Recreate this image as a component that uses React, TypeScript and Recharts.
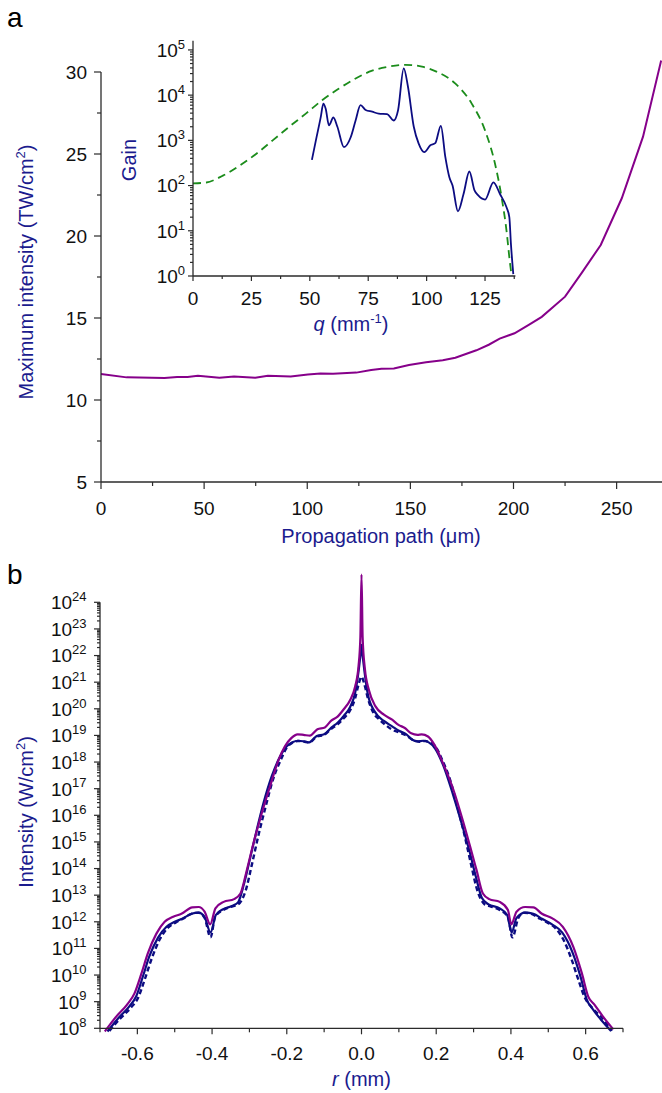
import type { ReactNode } from "react";
import { Label, Line, LineChart, XAxis, YAxis } from "recharts";

const FONT = "'Liberation Sans', Arial, Helvetica, sans-serif";
const AXIS = "#2b2b2b";
const INK = "#111111";
const TITLE = "#1b1b8e";
const NAVY = "#0c0c82";
const PURPLE = "#86008a";
const GREEN = "#1b8c1b";

// panel a: peak intensity along the propagation path
const pathUm = [
  0, 12.4, 30.8, 36.9, 42, 47, 57.4, 64.5, 74.8, 80.9, 92, 100.3, 106.4, 112.5, 123.8, 131, 136,
  142, 149.3, 157.6, 165.7, 171.8, 182, 188, 193.3, 200.5, 207.6, 213.7, 225, 233, 242.3, 252.5,
  262.8, 271.6,
];
const maxIntensity = [
  11.59, 11.38, 11.34, 11.4, 11.4, 11.48, 11.36, 11.44, 11.36, 11.48, 11.44, 11.56, 11.62, 11.6,
  11.67, 11.83, 11.9, 11.92, 12.14, 12.3, 12.42, 12.58, 13.03, 13.37, 13.74, 14.07, 14.6, 15.07,
  16.3, 17.74, 19.45, 22.3, 26.06, 30.7,
];
const pathTicks = [0, 50, 100, 150, 200, 250];
const pathMinor = [25, 75, 125, 175, 225];
const imaxTicks = [5, 10, 15, 20, 25, 30];
const imaxMinor = [7.5, 12.5, 17.5, 22.5, 27.5];

// inset: gain spectrum vs q
const qGain = [
  50.9, 52.6, 54.7, 55.8, 56.8, 58.2, 60.1, 61.8, 64.6, 67.5, 69.6, 71.7, 73.9, 76.7, 79.5, 83.1,
  85.9, 87.8, 90.2, 92, 94.5, 96.6, 99, 101.6, 103.7, 106.1, 108, 109.7, 111.1, 113.4, 115.8, 118.3,
  120.5, 121.9, 125, 128.6, 131.4, 134.2, 135.4, 136.1, 137.1,
];
const gain = [
  370, 1000, 3300, 6500, 5000, 2150, 3200, 2000, 710, 1170, 2750, 6000, 4700, 4300, 3900, 3800,
  2750, 4700, 39000, 15500, 2000, 850, 550, 780, 870, 2100, 430, 155, 100, 27, 65, 205, 78, 62, 49,
  118, 65, 33, 20, 5, 1.1,
];
const qEnvelope = [
  0, 5.7, 12.8, 19.9, 27, 34.1, 41.2, 48.3, 55.4, 62.5, 69.6, 76.7, 83.8, 90.9, 98, 105.1, 112.2,
  119.3, 125, 129.3, 132.1, 134.2, 135.6, 136.4,
];
const gainEnvelope = [
  112, 117, 166, 275, 500, 1000, 2000, 3900, 7800, 14000, 23400, 34700, 42700, 46800, 42700, 31600,
  18200, 6500, 1660, 300, 55, 10, 2.1, 1,
];
const qTicks = [0, 25, 50, 75, 100, 125];
const qMinor = [12.5, 37.5, 62.5, 87.5, 112.5, 137.5];
const gainDecades = [0, 1, 2, 3, 4, 5];

// panel b: radial intensity profiles
const rPurple = [
  -0.687, -0.656, -0.628, -0.608, -0.589, -0.572, -0.549, -0.527, -0.504, -0.482, -0.453, -0.436,
  -0.42, -0.405, -0.391, -0.369, -0.341, -0.324, -0.307, -0.29, -0.267, -0.245, -0.222, -0.205,
  -0.188, -0.171, -0.155, -0.138, -0.118, -0.098, -0.081, -0.064, -0.047, -0.03, -0.017, -0.008,
  -0.003, 0, 0.003, 0.009, 0.02, 0.037, 0.06, 0.082, 0.099, 0.116, 0.133, 0.15, 0.161, 0.178, 0.195,
  0.218, 0.246, 0.271, 0.291, 0.308, 0.325, 0.342, 0.37, 0.392, 0.401, 0.415, 0.438, 0.46, 0.483,
  0.511, 0.539, 0.567, 0.59, 0.607, 0.624, 0.646, 0.674,
];
const iPurple = [
  7.6e7, 2.8e8, 7.6e8, 2.0e9, 1.15e10, 6.5e10, 3.6e11, 1.0e12, 1.55e12, 2.0e12, 3.5e12, 3.6e12,
  2.4e12, 8e11, 3.2e12, 5.6e12, 7.1e12, 1.15e13, 8.7e13, 8e14, 1.2e16, 1.2e17, 1.2e18, 3.9e18,
  7.9e18, 1.1e19, 1.05e19, 9.8e18, 1.7e19, 2.0e19, 3.6e19, 5.1e19, 9.8e19, 2.2e20, 6.9e20, 3.9e21,
  5e22, 1.1e25, 5e22, 3.2e21, 5e20, 1.26e20, 6e19, 3.9e19, 2.5e19, 1.9e19, 1.2e19, 1.05e19, 1.1e19,
  9.1e18, 4.5e18, 9.1e17, 9.1e16, 6.5e15, 6.5e14, 8.7e13, 1.15e13, 7.1e12, 5.6e12, 2.75e12, 8e11,
  2.4e12, 3.6e12, 3.5e12, 2.0e12, 1.35e12, 6.5e11, 1.15e11, 1.15e10, 1.55e9, 7.6e8, 2.8e8, 9.1e7,
];
const rNavy = [
  -0.68, -0.65, -0.622, -0.603, -0.585, -0.568, -0.545, -0.522, -0.5, -0.48, -0.455, -0.436, -0.42,
  -0.404, -0.39, -0.37, -0.345, -0.33, -0.315, -0.298, -0.28, -0.262, -0.24, -0.218, -0.2, -0.185,
  -0.17, -0.155, -0.14, -0.12, -0.1, -0.08, -0.064, -0.047, -0.03, -0.017, -0.008, -0.003, 0, 0.003,
  0.008, 0.017, 0.035, 0.06, 0.082, 0.1, 0.12, 0.135, 0.15, 0.165, 0.18, 0.197, 0.218, 0.245, 0.27,
  0.29, 0.306, 0.322, 0.34, 0.37, 0.39, 0.402, 0.415, 0.438, 0.46, 0.483, 0.51, 0.537, 0.565, 0.587,
  0.603, 0.62, 0.64, 0.668,
];
const iNavy = [
  7.6e7, 2.5e8, 6.5e8, 1.6e9, 9e9, 5e10, 2.5e11, 6.5e11, 1.0e12, 1.3e12, 2.0e12, 2.2e12, 1.5e12,
  4e11, 1.8e12, 3.0e12, 4.0e12, 5.5e12, 2.5e13, 2.5e14, 3.0e15, 3.0e16, 3.0e17, 1.6e18, 3.9e18,
  5.5e18, 6.3e18, 6.0e18, 5.5e18, 9.5e18, 1.1e19, 2.0e19, 3.0e19, 5.5e19, 1.2e20, 4e20, 2.5e21, 1e22,
  2.5e22, 1e22, 2.5e21, 3.5e20, 8e19, 3.5e19, 2.2e19, 1.5e19, 1.1e19, 7e18, 6e18, 6.3e18, 5.5e18,
  3.2e18, 8e17, 6e16, 4e15, 4e14, 5e13, 8e12, 4.5e12, 3.2e12, 1.8e12, 4e11, 1.4e12, 2.2e12, 2.0e12,
  1.3e12, 8e11, 4e11, 7e10, 8e9, 1.2e9, 5e8, 2.2e8, 8e7,
];
const rDashed = [
  -0.675, -0.645, -0.617, -0.598, -0.58, -0.562, -0.54, -0.518, -0.497, -0.478, -0.455, -0.436,
  -0.42, -0.404, -0.392, -0.37, -0.345, -0.33, -0.31, -0.293, -0.275, -0.257, -0.237, -0.215, -0.2,
  -0.185, -0.17, -0.155, -0.14, -0.12, -0.1, -0.08, -0.064, -0.047, -0.03, -0.017, -0.008, 0, 0.008,
  0.017, 0.03, 0.047, 0.064, 0.08, 0.1, 0.12, 0.14, 0.155, 0.17, 0.185, 0.2, 0.215, 0.237, 0.257,
  0.275, 0.293, 0.31, 0.33, 0.345, 0.37, 0.392, 0.404, 0.42, 0.436, 0.455, 0.478, 0.497, 0.518, 0.54,
  0.562, 0.58, 0.598, 0.617, 0.645, 0.67,
];
const iDashed = [
  8e7, 2.4e8, 6e8, 1.4e9, 7e9, 4e10, 2.2e11, 6e11, 9.5e11, 1.3e12, 2.0e12, 2.2e12, 1.4e12, 2.6e11,
  1.5e12, 2.8e12, 3.8e12, 4.5e12, 1.5e13, 1.5e14, 2e15, 2e16, 2.2e17, 1.3e18, 3.5e18, 5.3e18, 6.2e18,
  5.9e18, 5.4e18, 9e18, 1.05e19, 1.8e19, 2.6e19, 4.5e19, 9e19, 2.5e20, 8e20, 1.6e21, 8e20, 2.5e20,
  8e19, 4e19, 2.5e19, 1.7e19, 1.3e19, 1e19, 6.5e18, 5.8e18, 6.2e18, 5.3e18, 3.5e18, 1.3e18, 2.2e17,
  2e16, 2e15, 1.5e14, 1.5e13, 4.5e12, 3.8e12, 2.8e12, 1.5e12, 2.6e11, 1.4e12, 2.2e12, 2.0e12, 1.3e12,
  9.5e11, 6e11, 2.2e11, 4e10, 7e9, 1.4e9, 6e8, 2.4e8, 8e7,
];
const rTicks = [-0.6, -0.4, -0.2, 0, 0.2, 0.4, 0.6];
const rMinor = [-0.7, -0.5, -0.3, -0.1, 0.1, 0.3, 0.5, 0.7];
const profileDecades = [8, 9, 10, 11, 12, 13, 14, 15, 16, 17, 18, 19, 20, 21, 22, 23, 24];

const zip = (xs: number[], ys: number[]) => xs.map((x, i) => ({ x, y: ys[i] }));

const logTicks = (decades: number[]) => {
  const out: number[] = [];
  decades.forEach((d, i) => {
    out.push(10 ** d);
    if (i < decades.length - 1) for (let m = 2; m < 10; m++) out.push(m * 10 ** d);
  });
  return out;
};

const isDecade = (v: number) => Math.abs(Math.log10(v) - Math.round(Math.log10(v))) < 1e-6;
const inList = (list: number[]) => (v: number) => list.some((m) => Math.abs(m - v) < 1e-6);

const pow10 = (v: number, sup: number) => (
  <>
    10
    <tspan dy={-sup * 0.62} fontSize={sup}>
      {Math.round(Math.log10(v))}
    </tspan>
  </>
);

type TickSpec = {
  major: (v: number) => boolean;
  label: (v: number) => ReactNode;
  len: number;
  minorLen: number;
  gap: number;
  size: number;
};

const leftTick = (s: TickSpec) => (p: any) => {
  const { x, y, payload } = p;
  const v = payload.value as number;
  const major = s.major(v);
  return (
    <g>
      <line x1={x - (major ? s.len : s.minorLen)} x2={x} y1={y} y2={y} stroke={AXIS} strokeWidth={1.2} />
      {major && (
        <text x={x - s.gap} y={y + s.size * 0.36} textAnchor="end" fontSize={s.size} fontFamily={FONT} fill={INK}>
          {s.label(v)}
        </text>
      )}
    </g>
  );
};

const bottomTick = (s: TickSpec) => (p: any) => {
  const { x, y, payload } = p;
  const v = payload.value as number;
  const major = s.major(v);
  return (
    <g>
      <line x1={x} x2={x} y1={y} y2={y + (major ? s.len : s.minorLen)} stroke={AXIS} strokeWidth={1.2} />
      {major && (
        <text x={x} y={y + s.gap} textAnchor="middle" fontSize={s.size} fontFamily={FONT} fill={INK}>
          {s.label(v)}
        </text>
      )}
    </g>
  );
};

const yTitle = (cx: number, cy: number, body: ReactNode) => () => (
  <text
    transform={`translate(${cx},${cy}) rotate(-90)`}
    x={0}
    y={7}
    textAnchor="middle"
    fontSize={20}
    fontFamily={FONT}
    fill={TITLE}
  >
    {body}
  </text>
);

const xTitle = (cx: number, baseline: number, body: ReactNode) => () => (
  <text x={cx} y={baseline} textAnchor="middle" fontSize={20} fontFamily={FONT} fill={TITLE}>
    {body}
  </text>
);

const axisLine = { stroke: AXIS, strokeWidth: 1.3 };

export default function App() {
  const pathData = zip(pathUm, maxIntensity);
  const gainData = zip(qGain, gain);
  const envData = zip(qEnvelope, gainEnvelope);

  return (
    <div
      style={{
        position: "absolute",
        left: 0,
        top: 0,
        width: 662,
        height: 1093,
        background: "#fff",
        fontFamily: FONT,
        overflow: "hidden",
      }}
    >
      <style>{`.no-clip, .no-clip * { clip-path: none !important; }`}</style>

      <div style={{ position: "absolute", left: 7, top: 4, fontSize: 28, lineHeight: "28px", color: "#000" }}>a</div>
      <div style={{ position: "absolute", left: 7, top: 561, fontSize: 28, lineHeight: "28px", color: "#000" }}>b</div>

      {/* panel a main */}
      <div style={{ position: "absolute", left: 0, top: 0 }}>
        <LineChart width={662} height={560} margin={{ top: 72, right: 0, bottom: 0, left: 0 }}>
          <XAxis
            type="number"
            dataKey="x"
            domain={[0, 272]}
            allowDataOverflow
            ticks={[...pathTicks, ...pathMinor].sort((a, b) => a - b)}
            interval={0}
            height={78}
            axisLine={axisLine}
            tickLine={false}
            tickSize={0}
            tickMargin={0}
            tick={bottomTick({ major: inList(pathTicks), label: (v) => `${v}`, len: 7, minorLen: 4, gap: 33, size: 19 })}
          >
            <Label content={xTitle(381, 543, <>Propagation path (μm)</>)} />
          </XAxis>
          <YAxis
            type="number"
            domain={[5, 30]}
            allowDataOverflow
            ticks={[...imaxTicks, ...imaxMinor].sort((a, b) => a - b)}
            interval={0}
            width={101}
            axisLine={axisLine}
            tickLine={false}
            tickSize={0}
            tickMargin={0}
            tick={leftTick({ major: inList(imaxTicks), label: (v) => `${v}`, len: 7, minorLen: 4, gap: 14, size: 19 })}
          >
            <Label
              content={yTitle(
                25.5,
                272,
                <>
                  Maximum intensity (TW/cm
                  <tspan dy={-8} fontSize={13}>
                    2
                  </tspan>
                  <tspan dy={8}>)</tspan>
                </>,
              )}
            />
          </YAxis>
          <Line
            data={pathData}
            dataKey="y"
            type="linear"
            stroke={PURPLE}
            strokeWidth={2}
            dot={false}
            activeDot={false}
            isAnimationActive={false}
            className="no-clip"
          />
        </LineChart>
      </div>

      {/* panel a inset */}
      <div style={{ position: "absolute", left: 100, top: 20 }}>
        <LineChart width={440} height={330} margin={{ top: 20.7, right: 24.6, bottom: 0, left: 0 }}>
          <XAxis
            type="number"
            dataKey="x"
            domain={[0, 138]}
            allowDataOverflow
            ticks={[...qTicks, ...qMinor].sort((a, b) => a - b)}
            interval={0}
            height={74}
            axisLine={axisLine}
            tickLine={false}
            tickSize={0}
            tickMargin={0}
            tick={bottomTick({ major: inList(qTicks), label: (v) => `${v}`, len: 5, minorLen: 3, gap: 29, size: 19 })}
          >
            <Label
              content={xTitle(
                251,
                311,
                <>
                  <tspan fontStyle="italic">q</tspan> (mm
                  <tspan dy={-8} fontSize={13}>
                    -1
                  </tspan>
                  <tspan dy={8}>)</tspan>
                </>,
              )}
            />
          </XAxis>
          <YAxis
            type="number"
            scale="log"
            domain={[1, 160000]}
            allowDataOverflow
            ticks={logTicks(gainDecades)}
            interval={0}
            width={93}
            axisLine={axisLine}
            tickLine={false}
            tickSize={0}
            tickMargin={0}
            tick={leftTick({ major: isDecade, label: (v) => pow10(v, 13), len: 5, minorLen: 3, gap: 8, size: 19 })}
          >
            <Label content={yTitle(28.6, 140, <>Gain</>)} />
          </YAxis>
          <Line
            data={envData}
            dataKey="y"
            type="monotone"
            stroke={GREEN}
            strokeWidth={1.8}
            strokeDasharray="8 5"
            dot={false}
            activeDot={false}
            isAnimationActive={false}
            className="no-clip"
          />
          <Line
            data={gainData}
            dataKey="y"
            type="monotone"
            stroke={NAVY}
            strokeWidth={1.8}
            dot={false}
            activeDot={false}
            isAnimationActive={false}
            className="no-clip"
          />
        </LineChart>
      </div>

      {/* panel b */}
      <div style={{ position: "absolute", left: 0, top: 560 }}>
        <LineChart width={662} height={533} margin={{ top: 42.3, right: 39, bottom: 0, left: 0 }}>
          <XAxis
            type="number"
            dataKey="x"
            domain={[-0.7, 0.7]}
            allowDataOverflow
            ticks={[...rTicks, ...rMinor].sort((a, b) => a - b)}
            interval={0}
            height={64.7}
            axisLine={axisLine}
            tickLine={false}
            tickSize={0}
            tickMargin={0}
            tick={bottomTick({ major: inList(rTicks), label: (v) => v.toFixed(1), len: 6, minorLen: 4, gap: 32, size: 19 })}
          >
            <Label
              content={xTitle(
                361.5,
                526,
                <>
                  <tspan fontStyle="italic">r</tspan> (mm)
                </>,
              )}
            />
          </XAxis>
          <YAxis
            type="number"
            scale="log"
            domain={[1e8, 1e24]}
            allowDataOverflow
            ticks={logTicks(profileDecades)}
            interval={0}
            width={100}
            axisLine={axisLine}
            tickLine={false}
            tickSize={0}
            tickMargin={0}
            tick={leftTick({ major: isDecade, label: (v) => pow10(v, 13), len: 6, minorLen: 3, gap: 13.5, size: 19 })}
          >
            <Label
              content={yTitle(
                25.5,
                252,
                <>
                  Intensity (W/cm
                  <tspan dy={-8} fontSize={13}>
                    2
                  </tspan>
                  <tspan dy={8}>)</tspan>
                </>,
              )}
            />
          </YAxis>
          <Line
            data={zip(rNavy, iNavy)}
            dataKey="y"
            type="monotone"
            stroke={NAVY}
            strokeWidth={2.2}
            dot={false}
            activeDot={false}
            isAnimationActive={false}
            className="no-clip"
          />
          <Line
            data={zip(rDashed, iDashed)}
            dataKey="y"
            type="monotone"
            stroke={NAVY}
            strokeWidth={2.4}
            strokeDasharray="5 3"
            dot={false}
            activeDot={false}
            isAnimationActive={false}
            className="no-clip"
          />
          <Line
            data={zip(rPurple, iPurple)}
            dataKey="y"
            type="monotone"
            stroke={PURPLE}
            strokeWidth={2.2}
            dot={false}
            activeDot={false}
            isAnimationActive={false}
            className="no-clip"
          />
        </LineChart>
      </div>
    </div>
  );
}
